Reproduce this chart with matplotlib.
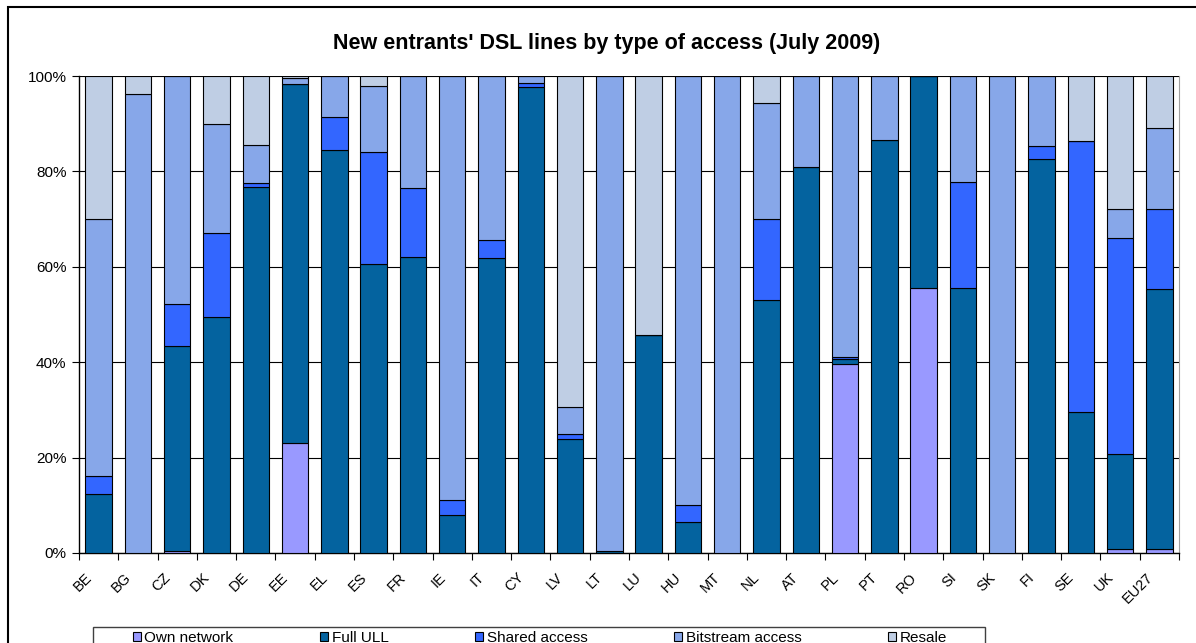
import numpy as np
import matplotlib.pyplot as plt
from matplotlib.patches import Rectangle, Patch
from matplotlib.ticker import FixedLocator, PercentFormatter
from matplotlib.transforms import ScaledTranslation

plt.rcParams['font.family'] = ['Liberation Sans', 'DejaVu Sans']

# countries
countries = ['BE', 'BG', 'CZ', 'DK', 'DE', 'EE', 'EL', 'ES', 'FR', 'IE', 'IT', 'CY', 'LV', 'LT', 'LU',
             'HU', 'MT', 'NL', 'AT', 'PL', 'PT', 'RO', 'SI', 'SK', 'FI', 'SE', 'UK', 'EU27']

# shares in %
own_network = [0, 0, 0.4, 0, 0, 23.0, 0, 0, 0, 0, 0, 0, 0, 0, 0,
               0, 0, 0, 0, 39.7, 0, 55.5, 0, 0, 0, 0, 0.9, 0.9]
full_ull = [12.4, 0, 43.1, 49.5, 76.8, 75.4, 84.4, 60.5, 62.0, 7.9, 61.8, 97.6, 23.9, 0.4, 45.7,
            6.6, 0, 53.1, 80.9, 1.0, 86.6, 44.5, 55.5, 0, 82.6, 29.5, 19.8, 54.4]
shared = [3.8, 0, 8.8, 17.6, 0.7, 0, 6.9, 23.6, 14.6, 3.3, 3.8, 1.0, 1.1, 0, 0,
          3.4, 0, 16.9, 0, 0.3, 0, 0, 22.3, 0, 2.8, 56.9, 45.3, 16.8]
bitstream = [53.8, 96.2, 47.7, 22.8, 8.1, 1.1, 8.7, 13.8, 23.4, 88.8, 34.4, 1.4, 5.7, 99.6, 0,
             90.0, 100, 24.3, 19.1, 59.0, 13.4, 0, 22.2, 100, 14.6, 0, 6.1, 17.0]
resale = [30.0, 3.8, 0, 10.1, 14.4, 0.5, 0, 2.1, 0, 0, 0, 0, 69.3, 0, 54.3,
          0, 0, 5.7, 0, 0, 0, 0, 0, 0, 0, 13.6, 27.9, 10.9]

series = [('Own network', own_network, '#9999FF'),
          ('Full ULL', full_ull, '#04639F'),
          ('Shared access', shared, '#3366FF'),
          ('Bitstream access', bitstream, '#87A7E9'),
          ('Resale', resale, '#BFCEE4')]

fig = plt.figure(figsize=(11.96, 6.43), dpi=100)
ax = fig.add_axes([79 / 1196, 1 - 553 / 643, 1100 / 1196, 477 / 643])

x = np.arange(len(countries))
bottom = np.zeros(len(countries))
handles = []
for name, vals, col in series:
    vals = np.array(vals, dtype=float)
    ax.bar(x, vals, 0.67, bottom=bottom, color=col, edgecolor='black', linewidth=0.8, zorder=3)
    bottom += vals
    handles.append(Patch(facecolor=col, edgecolor='black', linewidth=0.8, label=name))

ax.set_xlim(-0.5, len(countries) - 0.5)
ax.set_ylim(0, 100)
ax.set_yticks([0, 20, 40, 60, 80, 100])
ax.yaxis.set_major_formatter(PercentFormatter(decimals=0))
ax.grid(axis='y', color='black', linewidth=0.8, zorder=0)

ax.set_xticks(x)
ax.set_xticklabels(countries, rotation=45, ha='right', va='center', rotation_mode='anchor')
ax.xaxis.set_minor_locator(FixedLocator(np.arange(-0.5, len(countries), 1.0)))
ax.tick_params(axis='x', which='major', length=0, pad=16, labelsize=10.5)
ax.tick_params(axis='x', which='minor', length=5, width=0.8, direction='out')
ax.tick_params(axis='y', length=5, width=0.8, labelsize=11, pad=4)
shift = ScaledTranslation(-0.09, 0, fig.dpi_scale_trans)
for lab in ax.get_xticklabels():
    lab.set_transform(lab.get_transform() + shift)

ax.spines['top'].set_visible(False)
ax.spines['right'].set_color('#A0A0A0')
ax.spines['left'].set_linewidth(1.0)
ax.spines['bottom'].set_linewidth(1.0)

fig.text(607 / 1196, 1 - 43 / 643, "New entrants' DSL lines by type of access (July 2009)",
         ha='center', va='center', fontsize=15.5, fontweight='bold')

# legend: entries spread inside an outer box
leg_top = 1 - 631 / 643
fig.legend(handles=handles, loc='upper left', ncol=5, mode='expand',
           bbox_to_anchor=(133 / 1196, leg_top - 0.06, (947 - 133) / 1196, 0.06),
           fontsize=11, frameon=False,
           handlelength=0.5, handleheight=0.5, handletextpad=0.25, borderpad=0.0,
           borderaxespad=0)
fig.patches.append(Rectangle((93 / 1196, -0.05), (985 - 93) / 1196, 0.05 + 1 - 627 / 643,
                             transform=fig.transFigure, fill=False, edgecolor='#404040', linewidth=1.0))

# outer chart frame
fig.patches.append(Rectangle((8 / 1196, -0.1), 1.2, 1.1 - 7 / 643, transform=fig.transFigure,
                             fill=False, edgecolor='black', linewidth=1.5))

fig.savefig('out.png', dpi=100)
